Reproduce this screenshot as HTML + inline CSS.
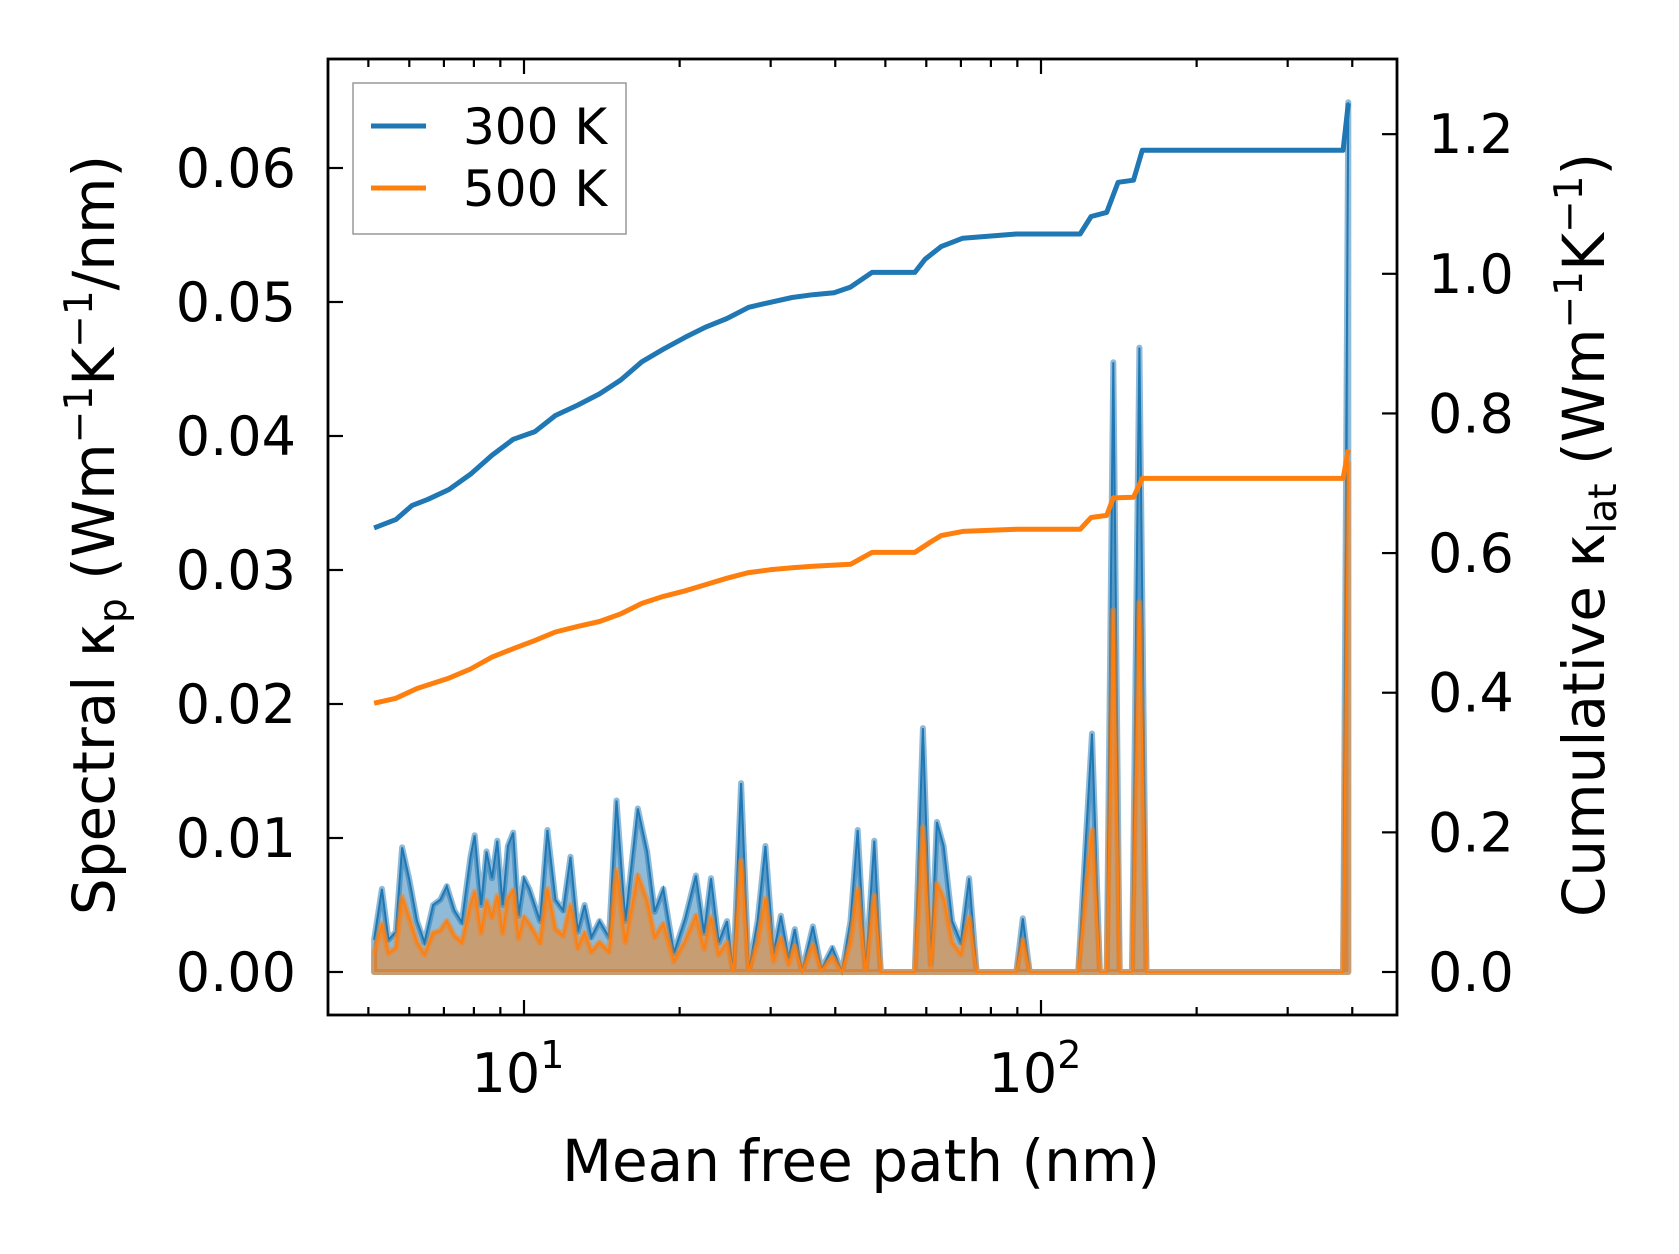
<!DOCTYPE html>
<html><head><meta charset="utf-8"><style>
html,body{margin:0;padding:0;background:#fff;}
svg{display:block;font-family:"DejaVu Sans","Liberation Sans",sans-serif;}
</style></head><body>
<svg id="chart" width="1679" height="1254" viewBox="0 0 1679 1254" xmlns="http://www.w3.org/2000/svg">
<rect x="0" y="0" width="1679" height="1254" fill="#fff"/>
<g id="plot"></g>
<g id="axes"></g>
<g>
<rect x="353" y="83" width="273" height="151" fill="#fff" stroke="#999" stroke-width="1.5"/>
<line x1="371" y1="126" x2="426" y2="126" stroke="#1f77b4" stroke-width="5"/>
<text x="463" y="144" font-size="50">300 K</text>
<line x1="371" y1="188" x2="426" y2="188" stroke="#ff7f0e" stroke-width="5"/>
<text x="463" y="206" font-size="50">500 K</text>
</g>
<text x="861" y="1181" font-size="58" text-anchor="middle">Mean free path (nm)</text>
<text transform="translate(114,535) rotate(-90)" font-size="58" text-anchor="middle">Spectral κ<tspan font-size="39" dy="12">p</tspan><tspan dy="-12"> (Wm</tspan><tspan font-size="39" dy="-22">−1</tspan><tspan dy="22">K</tspan><tspan font-size="39" dy="-22">−1</tspan><tspan dy="22">/nm)</tspan></text>
<text transform="translate(1604,535) rotate(-90)" font-size="58" text-anchor="middle">Cumulative κ<tspan font-size="39" dy="12">lat</tspan><tspan dy="-12"> (Wm</tspan><tspan font-size="39" dy="-22">−1</tspan><tspan dy="22">K</tspan><tspan font-size="39" dy="-22">−1</tspan><tspan dy="22">)</tspan></text>
</svg>
<script>
const cumX300=[5.13,5.65,6.07,6.52,7.16,7.88,8.67,9.53,10.5,11.5,12.7,14.0,15.4,16.9,18.6,20.5,22.5,24.7,27.2,29.9,33.0,36.2,39.8,42.8,47.1,57.0,59.7,64.1,70.6,89.6,119,125,134,141,151,157,384,393];
const cumY300=[0.636,0.648,0.668,0.677,0.691,0.713,0.740,0.763,0.774,0.797,0.812,0.828,0.848,0.874,0.892,0.909,0.924,0.936,0.952,0.959,0.966,0.970,0.973,0.981,1.002,1.002,1.021,1.039,1.051,1.057,1.057,1.082,1.088,1.131,1.134,1.177,1.177,1.244];
const cumX500=[5.13,5.65,6.21,7.16,7.88,8.67,9.53,10.5,11.5,12.7,14.0,15.4,16.9,18.6,20.5,22.5,24.7,27.2,29.9,33.0,36.2,42.8,47.1,57.0,61.2,64.1,70.6,89.6,119,125,134,138,151,157,384,393];
const cumY500=[0.385,0.392,0.406,0.421,0.434,0.451,0.463,0.475,0.487,0.495,0.502,0.513,0.528,0.538,0.546,0.555,0.564,0.572,0.576,0.579,0.581,0.584,0.601,0.601,0.616,0.625,0.631,0.634,0.634,0.651,0.654,0.679,0.680,0.707,0.707,0.748];
const specX=[5.13,5.31,5.47,5.65,5.81,6.00,6.21,6.42,6.67,6.89,7.09,7.33,7.58,7.88,8.03,8.26,8.46,8.67,8.88,9.09,9.31,9.53,9.76,10.0,10.24,10.74,11.1,11.5,11.9,12.3,12.7,13.1,13.5,14.0,14.6,15.1,15.7,16.6,17.3,17.9,18.6,19.5,20.5,21.5,22.3,23.0,23.8,24.7,25.4,26.3,27.2,28.3,29.3,30.4,31.4,32.5,33.4,34.5,36.2,37.6,39.5,41.2,42.8,44.2,45.8,47.6,49.0,57.0,59.1,61.2,62.9,64.8,67.3,70.0,72.6,75.1,89.6,92.2,95.1,118,125.5,130,134,138,142,150,155,160,384,393];
const spec300=[2.4,6.2,2.4,3.0,9.3,6.9,3.8,2.2,5.0,5.4,6.4,4.6,3.7,8.6,10.2,5.0,9.0,7.0,9.8,5.0,9.4,10.4,4.2,7.0,6.2,3.8,10.6,5.4,4.6,8.6,3.0,5.0,2.6,3.8,2.6,12.8,3.8,12.2,9.0,4.5,6.2,1.4,4.0,7.2,2.9,7.0,2.2,3.8,0,14.1,0,3.8,9.4,1.4,4.2,1.0,3.2,0,3.4,0.2,1.8,0,3.8,10.6,0,9.8,0,0,18.2,0.6,11.2,9.4,3.8,2.2,7.0,0,0,4.0,0,0,17.8,0,0,45.5,0,0,46.6,0,0,64.9];
const spec500=[1.4,3.6,1.4,1.8,5.6,4.0,2.2,1.3,2.9,3.1,3.8,2.7,2.2,5.0,6.0,2.9,5.3,4.1,5.7,2.9,5.5,6.1,2.5,4.1,3.6,2.2,6.2,3.2,2.7,5.0,1.8,2.9,1.5,2.2,1.5,7.6,2.2,7.2,5.3,2.6,3.6,0.8,2.3,4.2,1.7,4.1,1.3,2.2,0,8.3,0,2.2,5.5,0.8,2.5,0.6,1.9,0,2.0,0.1,1.1,0,2.2,6.2,0,5.7,0,0,10.8,0.4,6.6,5.5,2.2,1.3,4.1,0,0,2.4,0,0,10.6,0,0,27.0,0,0,27.6,0,0,38.0];
const xTicks=[10,100];
const xTickLabels=["1","2"];
const leftTicks=[0,0.01,0.02,0.03,0.04,0.05,0.06];
const leftTickLabels=["0.00","0.01","0.02","0.03","0.04","0.05","0.06"];
const rightTicks=[0,0.2,0.4,0.6,0.8,1.0,1.2];
const rightTickLabels=["0.0","0.2","0.4","0.6","0.8","1.0","1.2"];

const L=328,R=1397,T=59,B=1015;
const xs=v=>524+(Math.log10(v)-1)*517;
const yL=v=>972-v/0.01*134.0;
const yR=v=>972-v*698.2;
const NS="http://www.w3.org/2000/svg";
const plot=document.getElementById('plot'),axes=document.getElementById('axes');
function mk(tag,attrs,parent){const e=document.createElementNS(NS,tag);for(const k in attrs)e.setAttribute(k,attrs[k]);parent.appendChild(e);return e;}

function spec(vals,color,name){
  let pts=specX.map((x,i)=>xs(x).toFixed(1)+','+yL(vals[i]/1000).toFixed(1));
  let area='M'+xs(specX[0]).toFixed(1)+','+yL(0)+' L'+pts.join(' L')+' L'+xs(specX[specX.length-1]).toFixed(1)+','+yL(0)+' Z';
  const a=mk('path',{d:area,fill:color,'fill-opacity':0.5,stroke:color,'stroke-opacity':0.5,'stroke-width':6,'stroke-linejoin':'round'},plot);
  
  
  const l=mk('polyline',{points:pts.join(' '),fill:'none',stroke:color,'stroke-width':2},plot);
  
  
}
spec(spec300,'#1f77b4','spectral-300k');
spec(spec500,'#ff7f0e','spectral-500k');
function cum(X,Y,color,name){
  const pts=X.map((x,i)=>xs(x).toFixed(1)+','+yR(Y[i]).toFixed(1)).join(' ');
  const l=mk('polyline',{points:pts,fill:'none',stroke:color,'stroke-width':5,'stroke-linejoin':'round'},plot);
  
  
}
cum(cumX300,cumY300,'#1f77b4','cumulative-300k');
cum(cumX500,cumY500,'#ff7f0e','cumulative-500k');

const frame=mk('rect',{x:L,y:T,width:R-L,height:B-T,fill:'none',stroke:'#000','stroke-width':2.8},axes);


for(let d=1;d<=100;d*=10){for(let m=1;m<10;m++){const v=d*m;const x=xs(v);if(x<L+1||x>R-1)continue;const len=(m===1)?15:8;
  const t1=mk('line',{x1:x,y1:B,x2:x,y2:B-len,stroke:'#000','stroke-width':2.2},axes);
  
  
  const t2=mk('line',{x1:x,y1:T,x2:x,y2:T+len,stroke:'#000','stroke-width':2.2},axes);
  
  }}
xTicks.forEach((v,i)=>{const t=mk('text',{x:xs(v)-6,y:1092,'font-size':54,'text-anchor':'middle'},axes);
  t.innerHTML='10<tspan font-size="38" dy="-24">'+xTickLabels[i]+'</tspan>';
  
  });
leftTicks.forEach((v,i)=>{const y=yL(v);
  const t=mk('line',{x1:L,y1:y,x2:L+15,y2:y,stroke:'#000','stroke-width':2.2},axes);
  
  
  const s=mk('text',{x:296,y:y+19,'font-size':54,'text-anchor':'end'},axes);s.textContent=leftTickLabels[i];
  
  });
rightTicks.forEach((v,i)=>{const y=yR(v);
  const t=mk('line',{x1:R,y1:y,x2:R-15,y2:y,stroke:'#000','stroke-width':2.2},axes);
  
  
  const s=mk('text',{x:1428,y:y+19,'font-size':54},axes);s.textContent=rightTickLabels[i];
  
  });
</script>
</body></html>
